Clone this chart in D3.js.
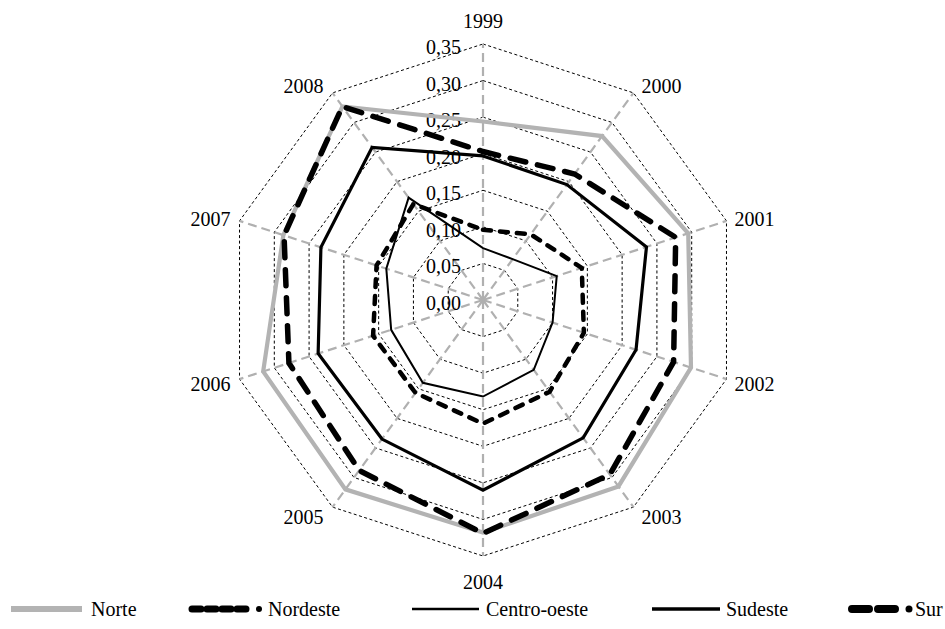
<!DOCTYPE html>
<html><head><meta charset="utf-8">
<script src="https://cdn.jsdelivr.net/npm/d3@7"></script>
<style>body{margin:0;background:#fff}svg{display:block}text{font-family:"Liberation Serif","Times New Roman",serif}</style>
</head><body><svg id="c" width="945" height="629"></svg>
<script>
const years = ['1999','2000','2001','2002','2003','2004','2005','2006','2007','2008'];
const ticks = [0,0.05,0.10,0.15,0.20,0.25,0.30,0.35];
const tickLabels = ['0,00','0,05','0,10','0,15','0,20','0,25','0,30','0,35'];
const seriesNames = ['Norte','Nordeste','Centro-oeste','Sudeste','Sur'];
const norte = [0.244,0.277,0.295,0.299,0.315,0.318,0.320,0.316,0.287,0.327];
const nordeste = [0.096,0.111,0.142,0.145,0.155,0.169,0.157,0.158,0.153,0.162];
const centroOeste = [0.071,0.069,0.106,0.100,0.118,0.132,0.140,0.132,0.139,0.173];
const sudeste = [0.197,0.195,0.235,0.220,0.233,0.260,0.235,0.237,0.233,0.258];
const sur = [0.203,0.213,0.277,0.274,0.295,0.319,0.288,0.279,0.286,0.327];

const svg = d3.select('#c');
const cx = 483, cy = 300;
const r = d3.scaleLinear().domain([0,0.35]).range([0,256]);
const ang = d3.scaleLinear().domain([0,years.length]).range([0,2*Math.PI]);
const px = (i,v)=>cx + r(v)*Math.sin(ang(i));
const py = (i,v)=>cy - r(v)*Math.cos(ang(i));

const g = svg.append('g');
// rings
ticks.slice(1).forEach(t=>{
  g.append('path')
   .attr('d', d3.line()(years.map((y,i)=>[px(i,t),py(i,t)])) + 'Z')
   .attr('fill','none').attr('stroke','#000').attr('stroke-width',1).attr('stroke-dasharray','3,2.5');
});
// axes
years.forEach((y,i)=>{
  g.append('line').attr('x1',cx).attr('y1',cy).attr('x2',px(i,0.35)).attr('y2',py(i,0.35))
   .attr('stroke','#b0b0b0').attr('stroke-width',2.2).attr('stroke-dasharray','9,5');
});
// tick labels
ticks.forEach((t,k)=>{
  g.append('text').attr('x',cx-22).attr('y',cy - r(t) + 10).attr('text-anchor','end')
   .attr('font-size',20).attr('fill','#000').text(tickLabels[k]);
});
// year labels
years.forEach((y,i)=>{
  const a = ang(i), s = Math.sin(a), c = Math.cos(a);
  const vx = px(i,0.35), vy = py(i,0.35);
  let anchor, x, yy;
  if (Math.abs(s) < 1e-6) {
    anchor = 'middle'; x = vx; yy = c > 0 ? vy - 16 : vy + 33;
  } else {
    anchor = s > 0 ? 'start' : 'end';
    x = vx + (s > 0 ? 8 : -9);
    yy = vy + 8.5 - 10*c;
  }
  g.append('text').attr('x',x).attr('y',yy).attr('text-anchor',anchor).attr('font-size',20).text(y);
});

const styles = [
  {data:norte, stroke:'#b3b3b3', w:4.2, dash:null, cap:'butt'},
  {data:nordeste, stroke:'#000', w:4.5, dash:'8,9', cap:'round'},
  {data:centroOeste, stroke:'#000', w:2, dash:null, cap:'butt'},
  {data:sudeste, stroke:'#000', w:3.2, dash:null, cap:'butt'},
  {data:sur, stroke:'#000', w:5.5, dash:'16,12', cap:'round'}
];
styles.forEach(st=>{
  g.append('path')
   .attr('d', d3.line()(st.data.map((v,i)=>[px(i,v),py(i,v)])) + 'Z')
   .attr('fill','none').attr('stroke',st.stroke).attr('stroke-width',st.w)
   .attr('stroke-linejoin','miter').attr('stroke-linecap',st.cap)
   .attr('stroke-dasharray',st.dash);
});

// legend
const legX = [[11,82,91],[189,262,268],[412,479,486],[652,720,726],[848,912,915]];
const ly = 609;
const lg = svg.append('g');
seriesNames.forEach((n,k)=>{
  const st = styles[k], p = legX[k];
  if (k===1) {
    lg.append('line').attr('x1',p[0]+3).attr('x2',p[1]-10).attr('y1',ly).attr('y2',ly)
      .attr('stroke','#000').attr('stroke-width',7).attr('stroke-linecap','round').attr('stroke-dasharray','9,6');
    lg.append('circle').attr('cx',p[1]-3).attr('cy',ly).attr('r',3).attr('fill','#000');
  } else if (k===4) {
    lg.append('line').attr('x1',p[0]+4).attr('x2',p[1]-12).attr('y1',ly).attr('y2',ly)
      .attr('stroke','#000').attr('stroke-width',8).attr('stroke-linecap','round').attr('stroke-dasharray','17,9');
    lg.append('circle').attr('cx',p[1]-3).attr('cy',ly).attr('r',3.5).attr('fill','#000');
  } else {
    lg.append('line').attr('x1',p[0]).attr('x2',p[1]).attr('y1',ly).attr('y2',ly)
      .attr('stroke',st.stroke).attr('stroke-width',k===0?6:(k===2?2.5:3.5));
  }
  lg.append('text').attr('x',p[2]).attr('y',ly+7).attr('font-size',20).text(n);
});
</script></body></html>
